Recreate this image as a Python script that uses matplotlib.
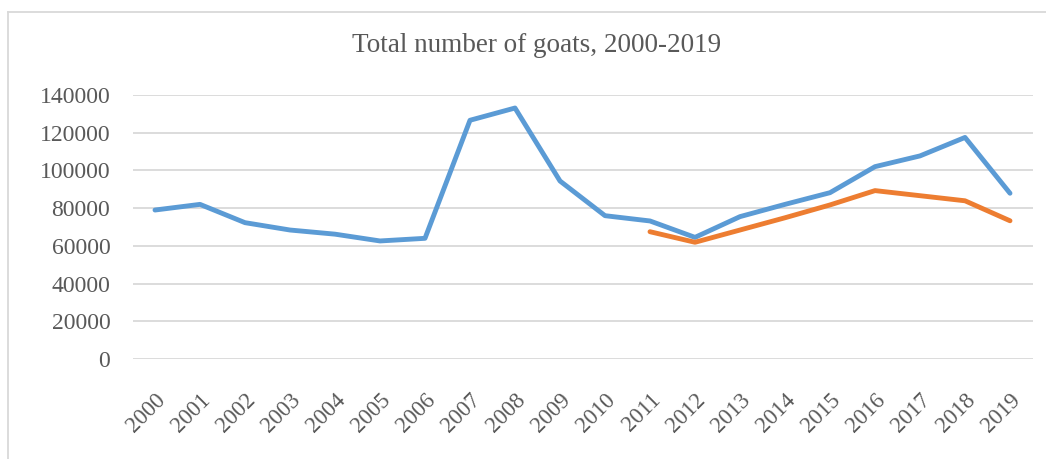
import matplotlib
matplotlib.use("Agg")
import matplotlib.pyplot as plt
import matplotlib.transforms as mtransforms
from matplotlib.lines import Line2D

years = [str(y) for y in range(2000, 2020)]
series_blue = [79000, 82000, 72300, 68400, 66200, 62600, 64000, 126600, 133100, 94400,
               76000, 73200, 64500, 75500, 82000, 88200, 102000, 107700, 117500, 87900]
series_orange_years = years[11:]
series_orange = [67500, 61900, 68400, 74900, 81700, 89300, 86600, 83900, 73300]
yticks = [0, 20000, 40000, 60000, 80000, 100000, 120000, 140000]
title = "Total number of goats, 2000-2019"

plt.rcParams['font.family'] = ['Liberation Serif', 'DejaVu Serif']
text_color = '#595959'
grid_color = '#D9D9D9'

fig = plt.figure(figsize=(10.46, 4.59), dpi=100)
ax = fig.add_axes([132.5 / 1046, 1 - 359 / 459, 900 / 1046, 264 / 459])

xb = list(range(len(years)))
xo = [years.index(y) for y in series_orange_years]
ax.plot(xb, series_blue, color='#5B9BD5', lw=3.5, solid_capstyle='round', solid_joinstyle='round', zorder=3)
ax.plot(xo, series_orange, color='#ED7D31', lw=3.5, solid_capstyle='round', solid_joinstyle='round', zorder=3)

ax.set_xlim(-0.5, len(years) - 0.5)
ax.set_ylim(0, 140000)
ax.set_yticks(yticks)
ax.set_yticklabels([str(v) for v in yticks])
ax.yaxis.grid(True, color=grid_color, lw=1.3)
ax.set_axisbelow(True)
for s in ax.spines.values():
    s.set_visible(False)
ax.tick_params(axis='y', length=0, pad=16, labelsize=17, labelcolor=text_color)
ax.tick_params(axis='x', length=0, pad=22, labelsize=16.5, labelcolor=text_color)
ax.set_xticks(xb)
ax.set_xticklabels(years, rotation=45, ha='right', rotation_mode='anchor')

fig.text(537 / 1046, 1 - 45 / 459, title, ha='center', va='center', fontsize=19.5, color=text_color)

# chart area frame (top and left edges visible)
fig.add_artist(Line2D([8 / 1046, 1.0], [1 - 12 / 459, 1 - 12 / 459], transform=fig.transFigure, color='#D9D9D9', lw=1.3))
fig.add_artist(Line2D([8 / 1046, 8 / 1046], [0.0, 1 - 12 / 459], transform=fig.transFigure, color='#D9D9D9', lw=1.3))

fig.savefig('out.png', dpi=100)
